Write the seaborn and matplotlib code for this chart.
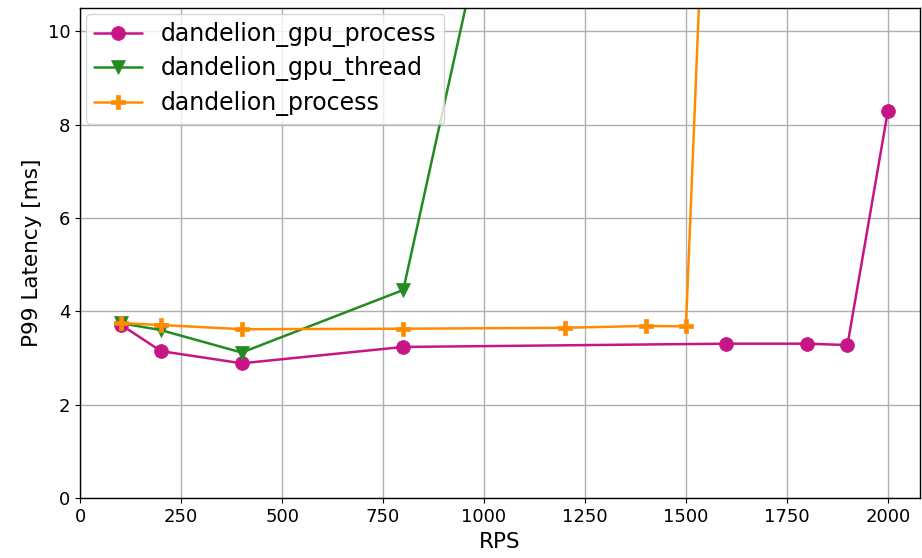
import matplotlib
matplotlib.use("Agg")
import matplotlib.pyplot as plt
import seaborn as sns
import pandas as pd

# Requests per second and P99 latency (ms) for each configuration
gpu_process_rps = [100, 200, 400, 800, 1600, 1800, 1900, 2000]
gpu_process_p99 = [3.72, 3.15, 2.89, 3.24, 3.31, 3.31, 3.28, 8.29]

gpu_thread_rps = [100, 200, 400, 800, 1000]
gpu_thread_p99 = [3.75, 3.60, 3.12, 4.46, 12.3]

process_rps = [100, 200, 400, 800, 1200, 1400, 1500, 1600]
process_p99 = [3.75, 3.71, 3.62, 3.63, 3.65, 3.69, 3.68, 25.0]

series = [
    ("dandelion_gpu_process", gpu_process_rps, gpu_process_p99, "#C71585", "o", 10),
    ("dandelion_gpu_thread", gpu_thread_rps, gpu_thread_p99, "#228B22", "v", 10),
    ("dandelion_process", process_rps, process_p99, "#FF8C00", "P", 10),
]

sns.set_style("ticks", rc={"text.color": "black", "axes.labelcolor": "black",
                           "xtick.color": "black", "ytick.color": "black",
                           "axes.edgecolor": "black"})
plt.rcParams["font.family"] = ["DejaVu Sans"]

fig, ax = plt.subplots(figsize=(9.22, 5.58), dpi=100)
fig.subplots_adjust(left=0.087, right=0.998, top=0.986, bottom=0.107)

for name, rps, p99, color, marker, ms in series:
    df = pd.DataFrame({"RPS": rps, "P99": p99})
    sns.lineplot(data=df, x="RPS", y="P99", ax=ax, color=color, marker=marker,
                 markersize=ms, markeredgecolor=color, markeredgewidth=0.5,
                 linewidth=1.8, label=name, errorbar=None)

ax.set_xlim(0, 2080)
ax.set_ylim(0, 10.5)
ax.set_xticks(range(0, 2001, 250))
ax.set_yticks(range(0, 11, 2))
ax.grid(True, color="#b0b0b0", linewidth=1.0)
ax.set_axisbelow(True)
ax.tick_params(labelsize=13)
ax.set_xlabel("RPS", fontsize=15.5)
ax.set_ylabel("P99 Latency [ms]", fontsize=15.5)
for s in ax.spines.values():
    s.set_linewidth(1.0)

ax.legend(loc="upper left", fontsize=17, framealpha=0.8,
          borderaxespad=0.25, labelspacing=0.4, borderpad=0.35,
          handlelength=2.0)

fig.savefig("out.png", dpi=100)
